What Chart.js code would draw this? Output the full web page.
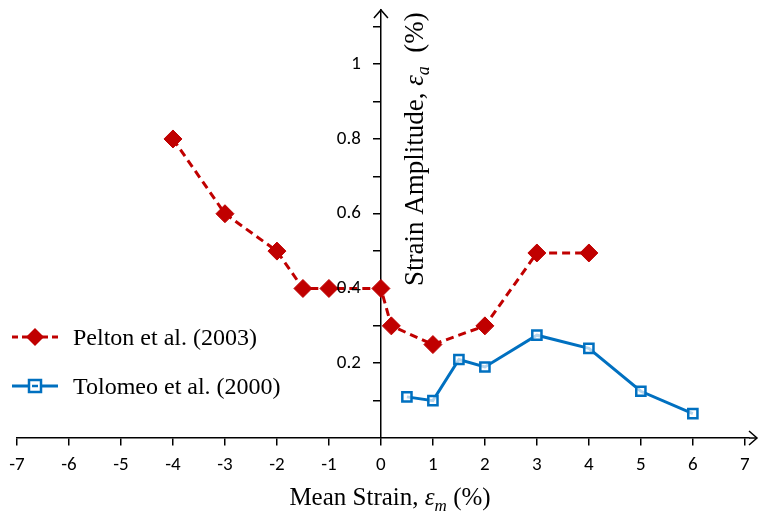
<!DOCTYPE html>
<html>
<head>
<meta charset="utf-8">
<script src="https://cdn.jsdelivr.net/npm/chart.js@4.4.0/dist/chart.umd.min.js"></script>
<style>
  html, body { margin: 0; padding: 0; background: #fff; }
</style>
</head>
<body>
<canvas id="chart" width="759" height="514"></canvas>
<script>
// data
const peltonX = [-4, -3, -2, -1.5, -1, 0, 0.2, 1, 2, 3, 4];
const peltonY = [0.8, 0.6, 0.5, 0.4, 0.4, 0.4, 0.3, 0.25, 0.3, 0.495, 0.495];
const tolomeoX = [0.5, 1, 1.5, 2, 3, 4, 5, 6];
const tolomeoY = [0.11, 0.1, 0.21, 0.19, 0.275, 0.24, 0.125, 0.065];
const xTicks = [-7, -6, -5, -4, -3, -2, -1, 0, 1, 2, 3, 4, 5, 6, 7];
const yTicks = [0.1, 0.2, 0.3, 0.4, 0.5, 0.6, 0.7, 0.8, 0.9, 1.0, 1.1];
const yLabels = ['', '0.2', '', '0.4', '', '0.6', '', '0.8', '', '1', ''];

const RED = '#C00000';
const BLUE = '#0070C0';
const tickFamily = "Carlito, 'Liberation Sans Narrow', 'Liberation Sans', sans-serif";
const tickFont = { family: tickFamily, size: 19 };
const serif = "'Liberation Serif', 'DejaVu Serif', serif";

const toPoints = (xs, ys) => xs.map((x, i) => ({ x: x, y: ys[i] }));

// arrows, y tick labels, axis titles and the legend
const decorations = {
  id: 'decorations',
  afterDraw(chart) {
    const ctx = chart.ctx;
    const xs = chart.scales.x, ys = chart.scales.y;
    const x0 = xs.getPixelForValue(0);
    const y0 = ys.getPixelForValue(0);
    const xEnd = 757;
    ctx.save();
    ctx.strokeStyle = '#000';
    ctx.lineWidth = 1.5;
    // x axis runs on a little past the last tick, then the arrow
    ctx.beginPath();
    ctx.moveTo(xs.right, y0);
    ctx.lineTo(xEnd, y0);
    ctx.stroke();
    ctx.beginPath();
    ctx.moveTo(xEnd - 8, y0 - 7);
    ctx.lineTo(xEnd, y0);
    ctx.lineTo(xEnd - 8, y0 + 7);
    ctx.stroke();
    // y arrow
    ctx.beginPath();
    ctx.moveTo(x0 - 7, ys.top + 8);
    ctx.lineTo(x0, ys.top);
    ctx.lineTo(x0 + 7, ys.top + 8);
    ctx.stroke();

    // y tick labels sit left of the centred axis
    ctx.fillStyle = '#000';
    ctx.font = tickFont.size + 'px ' + tickFamily;
    ctx.textAlign = 'right';
    ctx.textBaseline = 'middle';
    yTicks.forEach((v, i) => {
      if (yLabels[i]) ctx.fillText(yLabels[i], x0 - 20, ys.getPixelForValue(v));
    });
    ctx.textAlign = 'left';
    ctx.textBaseline = 'alphabetic';

    const makeTitle = (pre, sym, sub, post, size) => {
      const pieces = [
        { t: pre, f: size + 'px ' + serif, dy: 0 },
        { t: sym, f: 'italic ' + size + 'px ' + serif, dy: 0 },
        { t: sub, f: 'italic ' + Math.round(size * 0.68) + 'px ' + serif, dy: Math.round(size * 0.22) },
        { t: post, f: size + 'px ' + serif, dy: 0 }
      ];
      let w = 0;
      pieces.forEach(p => { ctx.font = p.f; p.w = ctx.measureText(p.t).width; w += p.w; });
      return { pieces, w };
    };
    const putTitle = (title, startX) => {
      let cx = startX;
      title.pieces.forEach(p => {
        ctx.font = p.f;
        ctx.fillText(p.t, cx, p.dy);
        cx += p.w;
      });
    };

    // x title
    const xt = makeTitle('Mean Strain, ', '\u03b5', 'm', ' (%)', 25);
    ctx.save();
    ctx.translate(390, 505);
    putTitle(xt, -xt.w / 2);
    ctx.restore();

    // y title, rotated, beside the axis
    const yt = makeTitle('Strain Amplitude, ', '\u03b5', 'a', '  (%)', 27);
    ctx.save();
    ctx.translate(423, 286);
    ctx.rotate(-Math.PI / 2);
    putTitle(yt, 0);
    ctx.restore();

    // legend
    const items = [
      { label: 'Pelton et al. (2003)', color: RED, dash: [6, 4], diamond: true, y: 337 },
      { label: 'Tolomeo et al. (2000)', color: BLUE, dash: [], diamond: false, y: 386 }
    ];
    items.forEach(it => {
      ctx.strokeStyle = it.color;
      ctx.lineWidth = 3;
      ctx.setLineDash(it.dash);
      ctx.beginPath();
      ctx.moveTo(12, it.y);
      ctx.lineTo(58, it.y);
      ctx.stroke();
      ctx.setLineDash([]);
      if (it.diamond) {
        ctx.fillStyle = RED;
        ctx.beginPath();
        ctx.moveTo(35, it.y - 9); ctx.lineTo(44, it.y); ctx.lineTo(35, it.y + 9); ctx.lineTo(26, it.y);
        ctx.closePath();
        ctx.fill();
      } else {
        ctx.fillStyle = '#fff';
        ctx.fillRect(29, it.y - 6, 12, 12);
        ctx.lineWidth = 2.5;
        ctx.strokeRect(29, it.y - 6, 12, 12);
        ctx.beginPath();
        ctx.moveTo(32, it.y); ctx.lineTo(38, it.y);
        ctx.stroke();
      }
      ctx.fillStyle = '#000';
      ctx.font = '24px ' + serif;
      ctx.fillText(it.label, 73, it.y + 8);
    });
    ctx.restore();
  }
};

const ctx = document.getElementById('chart').getContext('2d');
const chart = new Chart(ctx, {
  type: 'line',
  data: {
    datasets: [
      {
        label: 'Pelton et al. (2003)',
        data: toPoints(peltonX, peltonY),
        borderColor: RED,
        backgroundColor: RED,
        borderWidth: 3,
        borderDash: [8, 5],
        pointStyle: 'rectRot',
        pointRadius: 9,
        pointBorderWidth: 1,
        pointBorderColor: RED,
        pointBackgroundColor: RED,
        tension: 0
      },
      {
        label: 'Tolomeo et al. (2000)',
        data: toPoints(tolomeoX, tolomeoY),
        borderColor: BLUE,
        backgroundColor: 'rgba(0,0,0,0)',
        borderWidth: 3,
        pointStyle: 'rect',
        pointRadius: 6.5,
        pointBorderWidth: 2.5,
        pointBorderColor: BLUE,
        pointBackgroundColor: 'rgba(255,255,255,0.7)',
        tension: 0
      }
    ]
  },
  options: {
    responsive: false,
    animation: false,
    layout: { padding: { left: 17, right: 10, top: 8, bottom: 76 } },
    plugins: {
      legend: { display: false },
      tooltip: { enabled: false }
    },
    scales: {
      x: {
        type: 'linear',
        position: { y: 0 },
        min: -7,
        max: 7.08,
        afterBuildTicks: (s) => { s.ticks = xTicks.map(v => ({ value: v })); },
        ticks: { color: '#000', font: tickFont, padding: 9, maxRotation: 0, autoSkip: false },
        grid: { drawOnChartArea: false, tickLength: 7, color: '#000', lineWidth: 1.5 },
        border: { color: '#000', width: 1.5 }
      },
      y: {
        type: 'linear',
        position: { x: 0 },
        min: 0,
        max: 1.145,
        afterBuildTicks: (s) => { s.ticks = yTicks.map(v => ({ value: v })); },
        ticks: { color: '#000', font: { size: 1 }, padding: 0, autoSkip: false, callback: () => '' },
        grid: { drawOnChartArea: false, tickLength: 7, color: '#000', lineWidth: 1.5 },
        border: { color: '#000', width: 1.5 }
      }
    }
  },
  plugins: [decorations]
});
</script>
</body>
</html>
